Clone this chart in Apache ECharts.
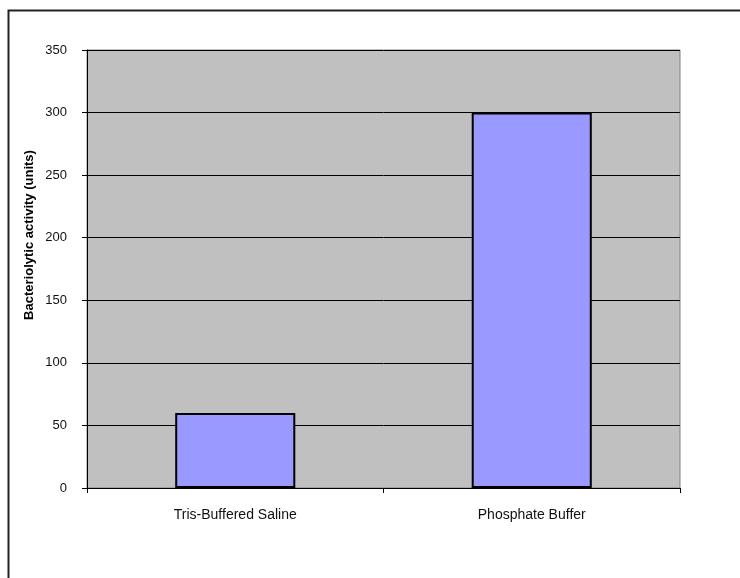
<!DOCTYPE html>
<html>
<head>
<meta charset="utf-8">
<script src="https://cdn.jsdelivr.net/npm/echarts@6/dist/echarts.min.js"></script>
<style>
html,body{margin:0;padding:0;background:#fff;}
#chart{width:740px;height:578px;}
</style>
</head>
<body>
<div id="chart"></div>
<script>
const categories = ["Tris-Buffered Saline", "Phosphate Buffer"];
const activityValues = [60, 300];
const yTicks = [0, 50, 100, 150, 200, 250, 300, 350];
const yTitle = "Bacteriolytic activity (units)";

const chart = echarts.init(document.getElementById('chart'), null, {renderer: 'canvas'});
chart.setOption({
  animation: false,
  backgroundColor: '#ffffff',
  textStyle: {fontFamily: 'Liberation Sans, Arial, sans-serif'},
  grid: {
    left: 87, right: 60, top: 50, bottom: 90,
    show: true, backgroundColor: '#C0C0C0', borderColor: '#808080', borderWidth: 1
  },
  xAxis: {
    type: 'category',
    data: categories,
    axisLine: {show: true, lineStyle: {color: '#000', width: 1}},
    axisTick: {show: true, length: 5, alignWithLabel: false, lineStyle: {color: '#000'}},
    axisLabel: {margin: 20, fontSize: 14, color: '#111', fontFamily: 'Liberation Sans, Arial, sans-serif'},
    splitLine: {show: false}
  },
  yAxis: {
    type: 'value',
    min: yTicks[0], max: yTicks[yTicks.length - 1], interval: 50,
    axisLine: {show: true, lineStyle: {color: '#000', width: 1}},
    axisTick: {show: true, length: 5, lineStyle: {color: '#000'}},
    axisLabel: {margin: 20, fontSize: 13, color: '#111', fontFamily: 'Liberation Sans, Arial, sans-serif'},
    splitLine: {show: true, lineStyle: {color: '#000', width: 1}}
  },
  series: [{
    type: 'bar',
    data: activityValues,
    barWidth: '40.5%',
    itemStyle: {color: '#9999FF', borderColor: '#000', borderWidth: 2}
  }],
  graphic: [
    {
      type: 'rect', silent: true, z: 100,
      shape: {x: 8.5, y: 10.5, width: 900, height: 800},
      style: {fill: 'none', stroke: '#222', lineWidth: 2}
    },
    {
      type: 'text', z: 100,
      x: 29, y: 235, rotation: Math.PI / 2,
      style: {
        text: yTitle, fill: '#000',
        font: 'bold 13px "Liberation Sans", Arial, sans-serif',
        align: 'center', verticalAlign: 'middle'
      }
    }
  ]
});
</script>
</body>
</html>
